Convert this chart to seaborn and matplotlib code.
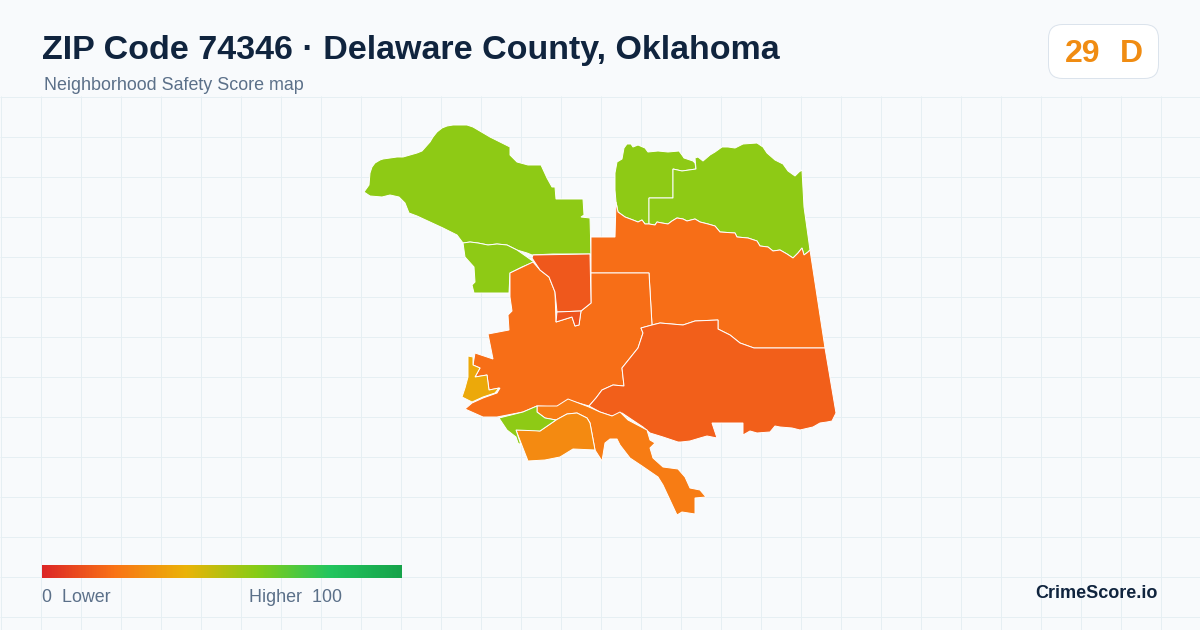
import numpy as np
import seaborn as sns
from matplotlib import pyplot as plt
from matplotlib.patches import FancyBboxPatch

sns.set_theme(style="white")
plt.rcParams['font.family'] = ['Liberation Sans', 'DejaVu Sans']

# outlines, x/y in image pixels
ne_border_a = [(616,202),(618,212),(625,217),(633,220),(638,222),(642,220),(645,224),(649,224)]
ne_border_b = [(649,224),(655,225),(657,222),(662,223),(668,224),(672,221),(677,218),(683,219),(687,221),(695,219),(700,222),(708,224),(715,226),(720,232),(735,233),(737,237),(748,238),(757,241),(760,246),(768,247),(773,251),(780,250),(787,254),(793,258),(798,253),(802,248),(804,255),(808,252),(810,250)]

nw_big = [(364,192),(369,185),(370,173),(372,167),(375,163),(380,160),(383,159),(390,158),(397,157),(403,157),(410,155),(417,153),(422,151),(430,142),(433,137),(437,132),(442,128),(447,126),(453,125),(460,125),(467,125),(473,127),(490,137),(510,147),(510,155),(517,162),(528,165),(541,165),(547,178),(552,187),(555,187),(556,199),(583,199),(584,215),(581,217),(590,218),(591,254),(553,254),(532,255),(527,253),(517,250),(507,245),(497,244),(488,245),(478,243),(470,242),(463,243),(457,235),(443,228),(430,222),(417,216),(409,213),(405,203),(399,197),(390,195),(382,197),(370,196)]
nw_small = [(463,243),(470,242),(478,243),(488,245),(497,244),(507,245),(517,250),(527,257),(534,262),(522,267),(510,273),(509,293),(474,293),(472,285),(475,282),(474,267),(465,257)]
center_red = [(533,255),(590,254),(591,303),(581,311),(557,312),(555,292),(549,277),(540,270),(532,258)]
center_red_low = [(557,312),(581,311),(579,325),(575,326),(572,317),(556,322)]
west_main = [(510,273),(533,262),(540,270),(549,277),(555,292),(556,322),(572,317),(575,326),(579,325),(581,311),(591,303),(591,273),(649,273),(652,325),(641,328),(643,333),(638,348),(622,368),(624,386),(613,385),(602,390),(596,398),(589,406),(568,400),(558,407),(537,406),(523,412),(497,417),(483,417),(465,409),(472,403),(483,398),(497,393),(500,388),(489,390),(487,375),(475,377),(480,368),(473,365),(475,353),(493,359),(488,334),(509,330),(508,315),(512,311),(510,297)]
ne_left = [(615,173),(617,162),(622,159),(624,148),(627,144),(631,144),(633,147),(638,145),(645,148),(648,152),(658,151),(668,152),(679,151),(682,155),(684,158),(693,161),(695,163),(696,169),(682,171),(673,169),(673,198),(649,198)] + ne_border_a[::-1] + [(615,190)]
ne_right = [(696,169),(695,158),(698,157),(703,161),(710,155),(715,152),(722,147),(728,147),(735,148),(743,144),(757,143),(763,147),(767,153),(775,160),(783,164),(788,171),(795,176),(799,172),(802,170),(804,207)] + ne_border_b[::-1] + [(649,198),(673,198),(673,169),(682,171)]
east_top = [(591,237),(615,237),(616,202)] + ne_border_a[1:] + ne_border_b[1:] + [(825,348),(754,348),(740,343),(730,335),(718,329),(718,320),(695,321),(683,325),(660,323),(652,325),(649,273),(591,273)]
east_low = [(641,328),(652,325),(660,323),(683,325),(695,321),(718,320),(718,329),(730,335),(740,343),(754,348),(825,348),(836,413),(832,421),(827,422),(820,423),(813,427),(800,430),(792,428),(780,427),(775,426),(770,432),(757,433),(750,431),(743,435),(743,423),(712,423),(717,438),(707,436),(700,438),(690,441),(681,442),(678,442),(663,437),(650,433),(643,427),(628,417),(622,413),(612,416),(600,412),(589,406),(596,398),(602,390),(613,385),(624,386),(622,368),(638,348),(643,333)]
south_arm = [(537,406),(557,406),(568,399),(589,407),(600,412),(612,416),(620,412),(628,420),(647,430),(650,440),(655,443),(650,448),(653,458),(663,467),(678,469),(685,477),(690,488),(700,490),(706,497),(695,498),(695,514),(682,512),(677,515),(670,500),(663,485),(658,477),(642,466),(630,458),(620,445),(617,439),(610,439),(605,443),(602,461),(595,450),(590,423),(587,418),(577,413),(567,414),(556,420),(545,418),(537,412)]
south_mid = [(516,430),(532,430),(540,431),(556,420),(567,414),(577,413),(587,418),(590,423),(595,450),(573,449),(560,457),(545,460),(528,461),(521,443)]
south_green = [(499,418),(523,412),(537,406),(537,412),(545,418),(556,420),(540,431),(516,430),(521,445),(518,443),(516,437),(507,430)]
west_yellow = [(468,356),(473,357),(473,365),(480,368),(475,377),(487,375),(489,390),(499,388),(495,393),(483,397),(472,402),(462,397),(465,388),(468,377)]

regions = [nw_big, nw_small, ne_left, ne_right, east_top, west_main, center_red, center_red_low,
           east_low, south_arm, south_mid, south_green, west_yellow]
scores = [58, 58, 58, 58, 19, 19, 13, 12, 15, 23, 27, 58, 37]

legend_colors = ["#dc2626", "#f97316", "#eab308", "#84cc16", "#22c55e", "#16a34a"]
overall_score = 29
overall_grade = "D"

cmap = sns.blend_palette(legend_colors, n_colors=256, as_cmap=True)

fig = plt.figure(figsize=(12, 6.3), dpi=100, facecolor="#f8fafc")
ax = fig.add_axes([0, 0, 1, 1])
ax.set_xlim(0, 1200)
ax.set_ylim(630, 0)
ax.axis("off")

# background grid, only below the header
ax.vlines(np.arange(0.5, 1200, 40), 96, 630, color="#e6eff3", lw=0.72, zorder=1)
ax.hlines(np.arange(96.5, 630, 40), 0, 1200, color="#e6eff3", lw=0.72, zorder=1)

for outline, score in zip(regions, scores):
    xs, ys = zip(*outline)
    ax.fill(xs, ys, facecolor=cmap(score / 100), edgecolor="#ffffff", lw=0.7, zorder=2)

ax.text(42, 50, "ZIP Code 74346 · Delaware County, Oklahoma", fontsize=24.5, fontweight="bold",
        color="#10243e", va="center", ha="left")
ax.text(44, 86, "Neighborhood Safety Score map", fontsize=12.9, color="#5b7089", va="center", ha="left")

badge = FancyBboxPatch((1056.5, 32.5), 94, 38, fc="#ffffff", ec="#dbe3ec", lw=0.72,
                       boxstyle="round,pad=8,rounding_size=14")
ax.add_patch(badge)
ax.text(1065, 54, str(overall_score), fontsize=23, fontweight="bold", color="#f08c12", va="center", ha="left")
ax.text(1120, 54, overall_grade, fontsize=23, fontweight="bold", color="#f08c12", va="center", ha="left")

ax.text(42, 598, "0  Lower", fontsize=12.9, color="#5b7089", va="center", ha="left")
ax.text(249, 598, "Higher  100", fontsize=12.9, color="#5b7089", va="center", ha="left")
ax.text(1158, 594, "CrimeScore.io", fontsize=13, fontweight="bold", color="#10243e", va="center", ha="right")

# legend bar
bar_ax = fig.add_axes([42 / 1200, 1 - 578 / 630, 360 / 1200, 13 / 630])
sns.heatmap(np.linspace(0, 100, 360).reshape(1, -1), cmap=cmap, vmin=0, vmax=100, cbar=False,
            xticklabels=False, yticklabels=False, ax=bar_ax)

fig.savefig("out.png", dpi=100, facecolor=fig.get_facecolor())
